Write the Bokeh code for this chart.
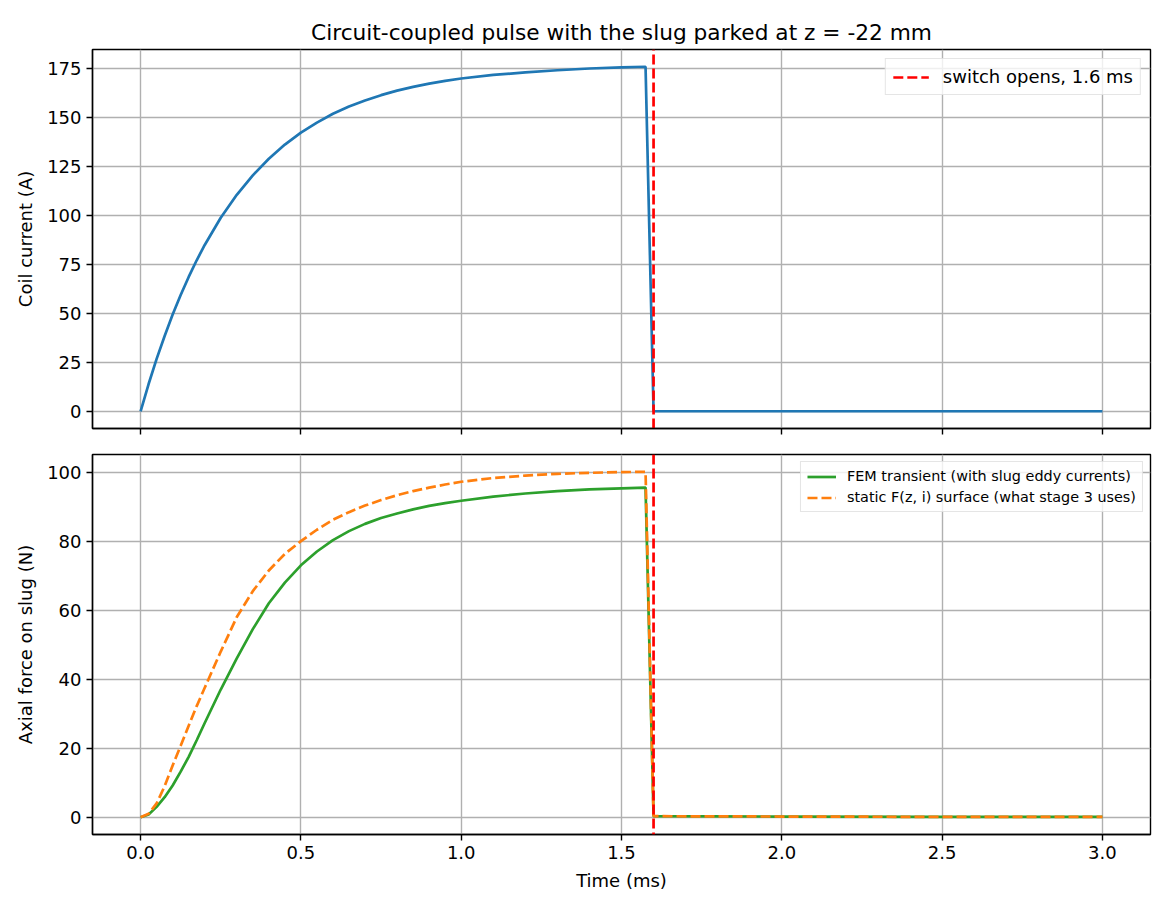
from bokeh.plotting import figure
from bokeh.layouts import column
from bokeh.models import Span, NumeralTickFormatter, FixedTicker, Range1d
from bokeh.embed import file_html
from bokeh.resources import INLINE

# ---------------- data ----------------
TITLE = "Circuit-coupled pulse with the slug parked at z = -22 mm"
T_SWITCH = 1.6  # ms

time_ms = [0, 0.025, 0.05, 0.075, 0.1, 0.125, 0.15, 0.175, 0.2, 0.25, 0.3, 0.35,
           0.4, 0.45, 0.5, 0.55, 0.6, 0.65, 0.7, 0.75, 0.8, 0.85, 0.9, 0.95, 1.0,
           1.1, 1.2, 1.3, 1.4, 1.5, 1.575, 1.6, 2.0, 2.5, 3.0]

coil_current_A = [0, 13.9, 26.7, 38.4, 49.3, 59.3, 68.5, 77.0, 84.8, 98.7, 110.4, 120.3,
                  128.8, 136.0, 142.1, 147.2, 151.7, 155.4, 158.5, 161.2, 163.5, 165.4,
                  167.1, 168.5, 169.7, 171.5, 172.8, 173.9, 174.8, 175.4, 175.7,
                  0, 0, 0, 0]

force_fem_N = [0, 0.8, 3.0, 5.8, 9.2, 13.2, 17.5, 22.3, 27.3, 37.0, 46.0, 54.5,
               62.0, 68.0, 73.0, 77.0, 80.3, 82.9, 85.0, 86.7, 88.0, 89.2,
               90.2, 91.0, 91.7, 92.9, 93.8, 94.5, 95.0, 95.3, 95.5,
               0.3, 0.2, 0.1, 0.1]

force_static_N = [0, 1.0, 4.0, 9.0, 15.0, 20.7, 26.5, 32.2, 37.5, 48.0, 58.0, 65.5,
                  71.5, 76.3, 80.0, 83.3, 86.2, 88.4, 90.3, 91.9, 93.3, 94.5,
                  95.5, 96.4, 97.2, 98.3, 99.0, 99.5, 99.8, 100.0, 100.1,
                  0.3, 0.2, 0.1, 0.1]

x_ticks = [0.0, 0.5, 1.0, 1.5, 2.0, 2.5, 3.0]
y1_ticks = [0, 25, 50, 75, 100, 125, 150, 175]
y2_ticks = [0, 20, 40, 60, 80, 100]

LEG_SWITCH = "switch opens, 1.6 ms"
LEG_FEM = "FEM transient (with slug eddy currents)"
LEG_STATIC = "static F(z, i) surface (what stage 3 uses)"

# ---------------- styling ----------------
FONT = "DejaVu Sans"
BLUE, GREEN, ORANGE, RED = "#1f77b4", "#2ca02c", "#ff7f0e", "red"
LW = 2.7
DASH = "10 4"


def padded(vals, frac=0.05):
    lo, hi = min(vals), max(vals)
    d = (hi - lo) * frac
    return lo - d, hi + d


x_lo, x_hi = padded(time_ms)
y1_lo, y1_hi = padded(coil_current_A)
y2_lo, y2_hi = padded(force_fem_N + force_static_N)

W = 1168
BL, BR = 92, 18


def style(p, yticks):
    p.outline_line_color = "black"
    p.outline_line_width = 1.4
    for ax in (p.xaxis[0], p.yaxis[0]):
        ax.axis_line_color = "black"
        ax.axis_line_width = 1.4
        ax.major_tick_line_width = 1.4
        ax.major_tick_line_color = "black"
        ax.major_tick_out = 6
        ax.major_tick_in = 0
        ax.minor_tick_out = 0
        ax.minor_tick_in = 0
        ax.major_label_text_font = FONT
        ax.major_label_text_font_size = "18px"
        ax.major_label_text_color = "black"
        ax.major_label_standoff = 5
        ax.axis_label_text_font = FONT
        ax.axis_label_text_font_size = "18px"
        ax.axis_label_text_font_style = "normal"
        ax.axis_label_text_color = "black"
        ax.axis_label_standoff = 8
    p.xaxis.ticker = FixedTicker(ticks=x_ticks)
    p.yaxis.ticker = FixedTicker(ticks=yticks)
    p.xaxis.formatter = NumeralTickFormatter(format="0.0")
    p.grid.grid_line_color = "#b0b0b0"
    p.grid.grid_line_width = 1.4
    p.background_fill_color = "white"
    p.border_fill_color = "white"


# ---------------- top: coil current ----------------
p1 = figure(width=W, height=441, output_backend="svg", toolbar_location=None,
            x_range=Range1d(x_lo, x_hi), y_range=Range1d(y1_lo, y1_hi),
            min_border_left=BL, min_border_right=BR, min_border_top=49,
            min_border_bottom=13)
p1.title.text = TITLE
p1.title.align = "center"
p1.title.text_font = FONT
p1.title.text_font_size = "21.7px"
p1.title.text_font_style = "normal"
p1.title.text_color = "black"
p1.title.standoff = 10
style(p1, y1_ticks)
p1.xaxis.major_label_overrides = {t: "" for t in x_ticks}
p1.xaxis.major_label_standoff = 0
p1.yaxis.axis_label = "Coil current (A)"

p1.line(time_ms, coil_current_A, line_color=BLUE, line_width=LW)
p1.line([T_SWITCH, T_SWITCH], [y1_lo, y1_hi], line_color=RED, line_width=LW,
        line_dash=DASH, legend_label=LEG_SWITCH)

lg = p1.legend[0]
lg.location = "top_right"
lg.margin = 9
lg.padding = 7
lg.spacing = 4
lg.label_text_font = FONT
lg.label_text_font_size = "18px"
lg.label_text_color = "black"
lg.label_height = 18
lg.glyph_height = 18
lg.glyph_width = 36
lg.label_standoff = 14
lg.border_line_color = "#cccccc"
lg.border_line_width = 1.4
lg.background_fill_alpha = 0.8

# ---------------- bottom: axial force ----------------
p2 = figure(width=W, height=455, output_backend="svg", toolbar_location=None,
            x_range=p1.x_range, y_range=Range1d(y2_lo, y2_hi),
            min_border_left=BL, min_border_right=BR, min_border_top=13,
            min_border_bottom=62)
style(p2, y2_ticks)
p2.xaxis.axis_label = "Time (ms)"
p2.yaxis.axis_label = "Axial force on slug (N)"

p2.line(time_ms, force_fem_N, line_color=GREEN, line_width=LW, legend_label=LEG_FEM)
p2.line(time_ms, force_static_N, line_color=ORANGE, line_width=LW, line_dash=DASH,
        legend_label=LEG_STATIC)
p2.add_layout(Span(location=T_SWITCH, dimension="height", line_color=RED,
                   line_width=LW, line_dash=DASH))

lg2 = p2.legend[0]
lg2.location = "top_right"
lg2.margin = 7
lg2.padding = 6
lg2.spacing = 5
lg2.label_text_font = FONT
lg2.label_text_font_size = "14.4px"
lg2.label_text_color = "black"
lg2.label_height = 15
lg2.glyph_height = 15
lg2.glyph_width = 29
lg2.label_standoff = 11
lg2.border_line_color = "#cccccc"
lg2.border_line_width = 1.4
lg2.background_fill_alpha = 0.8

layout = column(p1, p2, spacing=0)
open("out.html", "w").write(file_html(layout, INLINE))
